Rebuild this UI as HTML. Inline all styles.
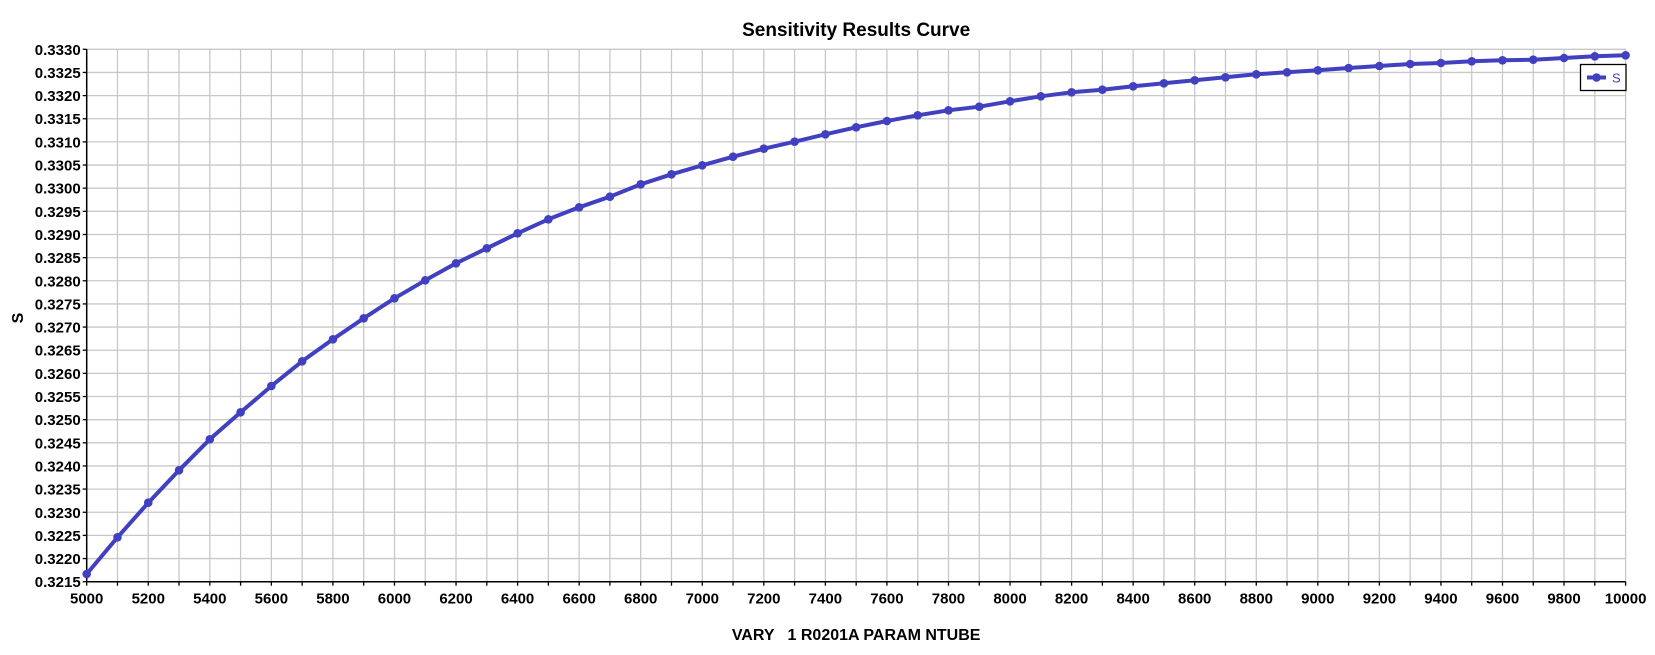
<!DOCTYPE html>
<html><head><meta charset="utf-8"><style>
html,body{margin:0;padding:0;background:#fff;}
svg{display:block;font-family:"Liberation Sans","DejaVu Sans",sans-serif;}
</style></head><body>
<svg id="c" width="1655" height="655" xmlns="http://www.w3.org/2000/svg"></svg>
<script>
const s=document.getElementById('c');
const L=86.7,R=1625.6,T=49.3,B=581.7;
const X=v=>L+(v-5000)/5000*(R-L);
let h='';
h+='<text x="'+((L+R)/2)+'" y="36" text-anchor="middle" font-size="19" font-weight="bold">Sensitivity Results Curve</text>';
for(let i=0;i<=50;i++){const x=X(5000+i*100);h+='<line x1="'+x+'" y1="'+T+'" x2="'+x+'" y2="'+B+'" stroke="#c8c8c8" stroke-width="1.3"/>';}
for(let j=0;j<=23;j++){const y=T+j*(B-T)/23;h+='<line x1="'+L+'" y1="'+y+'" x2="'+R+'" y2="'+y+'" stroke="#c8c8c8" stroke-width="1.3"/>';
 h+='<line x1="'+(L-4)+'" y1="'+y+'" x2="'+L+'" y2="'+y+'" stroke="#000" stroke-width="1.3"/>';
 h+='<text x="'+(L-6)+'" y="'+(y+5.5)+'" text-anchor="end" font-size="15" font-weight="bold">'+(0.3330-j*0.0005).toFixed(4)+'</text>';}
for(let i=0;i<=50;i++){const x=X(5000+i*100);h+='<line x1="'+x+'" y1="'+B+'" x2="'+x+'" y2="'+(B+4)+'" stroke="#000" stroke-width="1.3"/>';
 if(i%2==0)h+='<text x="'+x+'" y="'+(B+22)+'" text-anchor="middle" font-size="15" font-weight="bold">'+(5000+i*100)+'</text>';}
h+='<line x1="'+L+'" y1="'+T+'" x2="'+L+'" y2="'+B+'" stroke="#000" stroke-width="1.5"/>';
h+='<line x1="'+L+'" y1="'+B+'" x2="'+R+'" y2="'+B+'" stroke="#000" stroke-width="1.5"/>';
h+='<text x="'+((L+R)/2)+'" y="640" text-anchor="middle" font-size="16" font-weight="bold" xml:space="preserve">VARY   1 R0201A PARAM NTUBE</text>';
h+='<text transform="translate(23,318) rotate(-90)" text-anchor="middle" font-size="16" font-weight="bold">S</text>';
const d=[574,537.3,502.7,470.3,439.3,412.3,386,361.3,339.3,318.3,298.3,280.3,263.3,248.3,233.3,219.3,207.3,196.7,184.3,174.3,165.3,156.7,148.7,141.7,134.3,127.3,121,115.3,110.3,106.7,101.3,96.3,92.3,89.7,86.3,83.3,80.3,77.3,74.3,72.3,70.3,68,66,64,63,61.3,60.3,59.7,58,56.3,55.3];
const pts=d.map((v,i)=>[X(5000+i*100),v]);
h+='<polyline fill="none" stroke="#4040c0" stroke-width="4" stroke-linejoin="round" points="'+pts.map(p=>p[0].toFixed(1)+','+p[1].toFixed(1)).join(' ')+'"/>';
pts.forEach(p=>{h+='<circle cx="'+p[0]+'" cy="'+p[1]+'" r="4.3" fill="#4040c0"/>';});
h+='<rect x="1580.5" y="64.5" width="45.5" height="26" fill="#fff" stroke="#000" stroke-width="1.3"/>';
h+='<line x1="1587" y1="77.5" x2="1606" y2="77.5" stroke="#4040c0" stroke-width="4"/><circle cx="1596.5" cy="77.5" r="4.3" fill="#4040c0"/>';
h+='<text x="1612" y="82.5" font-size="13" fill="#4040c0">S</text>';
s.innerHTML=h;
</script>
</body></html>
